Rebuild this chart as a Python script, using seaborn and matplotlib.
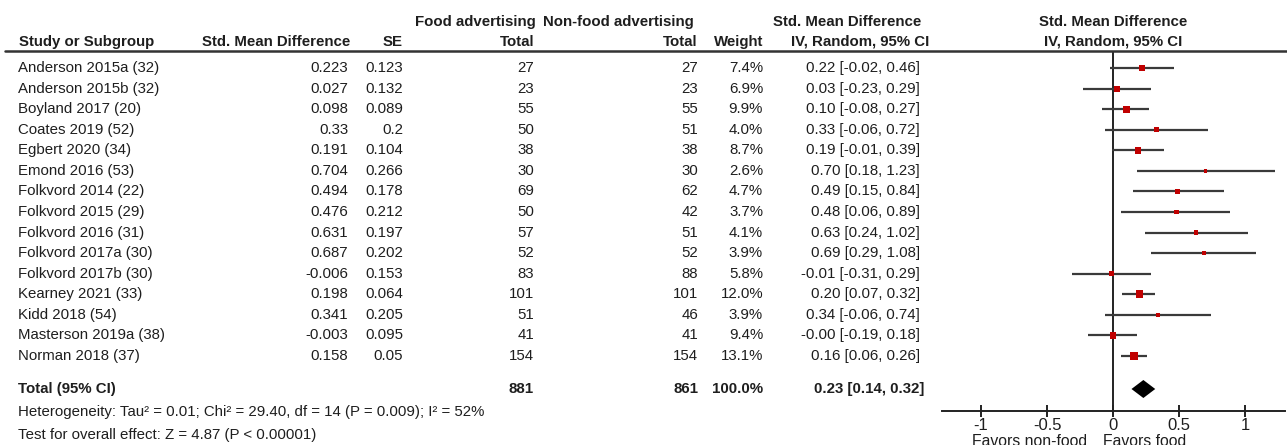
import numpy as np
import pandas as pd
import matplotlib
matplotlib.use("Agg")
import matplotlib.pyplot as plt
import seaborn as sns

studies = ["Anderson 2015a (32)", "Anderson 2015b (32)", "Boyland 2017 (20)", "Coates 2019 (52)",
           "Egbert 2020 (34)", "Emond 2016 (53)", "Folkvord 2014 (22)", "Folkvord 2015 (29)",
           "Folkvord 2016 (31)", "Folkvord 2017a (30)", "Folkvord 2017b (30)", "Kearney 2021 (33)",
           "Kidd 2018 (54)", "Masterson 2019a (38)", "Norman 2018 (37)"]
smd_txt = ["0.223", "0.027", "0.098", "0.33", "0.191", "0.704", "0.494", "0.476", "0.631", "0.687",
           "-0.006", "0.198", "0.341", "-0.003", "0.158"]
se_txt = ["0.123", "0.132", "0.089", "0.2", "0.104", "0.266", "0.178", "0.212", "0.197", "0.202",
          "0.153", "0.064", "0.205", "0.095", "0.05"]
food_n = [27, 23, 55, 50, 38, 30, 69, 50, 57, 52, 83, 101, 51, 41, 154]
nonfood_n = [27, 23, 55, 51, 38, 30, 62, 42, 51, 52, 88, 101, 46, 41, 154]
weight = [7.4, 6.9, 9.9, 4.0, 8.7, 2.6, 4.7, 3.7, 4.1, 3.9, 5.8, 12.0, 3.9, 9.4, 13.1]
est = [0.22, 0.03, 0.10, 0.33, 0.19, 0.70, 0.49, 0.48, 0.63, 0.69, -0.01, 0.20, 0.34, -0.00, 0.16]
ci_lo = [-0.02, -0.23, -0.08, -0.06, -0.01, 0.18, 0.15, 0.06, 0.24, 0.29, -0.31, 0.07, -0.06, -0.19, 0.06]
ci_hi = [0.46, 0.29, 0.27, 0.72, 0.39, 1.23, 0.84, 0.89, 1.02, 1.08, 0.29, 0.32, 0.74, 0.18, 0.26]

total_food = 881
total_nonfood = 861
total_est, total_lo, total_hi = 0.23, 0.14, 0.32
het_text = "Heterogeneity: Tau\u00b2 = 0.01; Chi\u00b2 = 29.40, df = 14 (P = 0.009); I\u00b2 = 52%"
test_text = "Test for overall effect: Z = 4.87 (P < 0.00001)"
xticks = [-1, -0.5, 0, 0.5, 1]
xticklabels = ["-1", "-0.5", "0", "0.5", "1"]

sns.set_theme(style="white")
plt.rcParams['font.family'] = ['Liberation Sans', 'DejaVu Sans']

W, H = 1287, 445
fig = plt.figure(figsize=(W / 100, H / 100), dpi=100)
TXT = "#1e1e1e"
FS = 10.8

def fx(x):
    return x / W

def fy(y):
    return 1 - y / H

def t(x, y, s, ha="left", bold=False, fs=FS):
    fig.text(fx(x), fy(y), s, ha=ha, va="center", fontsize=fs, color=TXT,
             fontweight="bold" if bold else "normal")

# Header
t(536, 22, "Food advertising", "right", True)
t(543, 22, "Non-food advertising", "left", True)
t(847, 22, "Std. Mean Difference", "center", True)
t(1113, 22, "Std. Mean Difference", "center", True)
t(19, 42, "Study or Subgroup", "left", True)
t(350, 42, "Std. Mean Difference", "right", True)
t(403, 42, "SE", "right", True)
t(535, 42, "Total", "right", True)
t(697, 42, "Total", "right", True)
t(763, 42, "Weight", "right", True)
t(929, 42, "IV, Random, 95% CI", "right", True)
t(1113, 42, "IV, Random, 95% CI", "center", True)

fig.add_artist(plt.Line2D([fx(5), fx(1287)], [fy(51), fy(51)], color="#333333", lw=1.8))

y0, dy = 68, 20.57
rows_y = [y0 + i * dy for i in range(len(studies))]
for i, y in enumerate(rows_y):
    t(18, y, studies[i])
    t(348, y, smd_txt[i], "right")
    t(403, y, se_txt[i], "right")
    t(534, y, str(food_n[i]), "right")
    t(698, y, str(nonfood_n[i]), "right")
    t(763, y, f"{weight[i]:.1f}%", "right")
    t(920, y, f"{est[i]:.2f} [{ci_lo[i]:.2f}, {ci_hi[i]:.2f}]", "right")

ytot = 389
t(18, ytot, "Total (95% CI)", bold=True)
t(534, ytot, str(total_food), "right", True)
t(698, ytot, str(total_nonfood), "right", True)
t(763, ytot, "100.0%", "right", True)
t(924, ytot, f"{total_est:.2f} [{total_lo:.2f}, {total_hi:.2f}]", "right", True)
t(18, 412, het_text)
t(18, 435, test_text)

# Forest axes
x_left, x_right, zero_px, unit_px = 942, 1285, 1113, 132
ax = fig.add_axes([fx(x_left), 0, (x_right - x_left) / W, 1])
ax.set_xlim((x_left - zero_px) / unit_px, (x_right - zero_px) / unit_px)
ax.set_ylim(H, 0)
ax.patch.set_alpha(0)
for s in ["top", "left", "right"]:
    ax.spines[s].set_visible(False)
ax.spines["bottom"].set_position(("data", 411))
ax.spines["bottom"].set_color("#222222")
ax.spines["bottom"].set_linewidth(1.4)
ax.set_yticks([])
ax.set_xticks(xticks)
ax.set_xticklabels(xticklabels)
ax.tick_params(axis="x", direction="inout", length=8.6, width=1.4, color="#222222",
               labelsize=12, pad=0.5, labelcolor=TXT, bottom=True)

ax.vlines(0, 52, 411, color="#222222", lw=1.4)

df = pd.DataFrame({"est": est, "lo": ci_lo, "hi": ci_hi, "w": weight, "y": rows_y})
ax.hlines(df["y"], df["lo"], df["hi"], color="#3a3a3a", lw=1.6, zorder=2)
sns.scatterplot(data=df, x="est", y="y", size="w", sizes=(2.6 * 2.6, 13.1 * 2.6),
                size_norm=(2.6, 13.1), marker="s", color="#c00000", edgecolor="#c00000",
                linewidth=0, legend=False, ax=ax, zorder=3)

dh = 9
ax.fill([total_lo, total_est, total_hi, total_est], [ytot, ytot - dh, ytot, ytot + dh],
        color="black", lw=0, zorder=3)
ax.set_xlabel("")
ax.set_ylabel("")

ax.text(-0.197, 441, "Favors non-food", ha="right", va="center", fontsize=11.3, color=TXT)
ax.text(-0.076, 441, "Favors food", ha="left", va="center", fontsize=11.3, color=TXT)

fig.savefig("out.png", dpi=100)
